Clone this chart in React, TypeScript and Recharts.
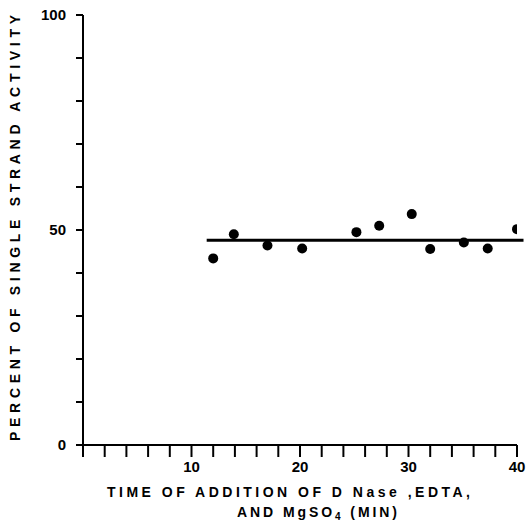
import { ScatterChart, Scatter, XAxis, YAxis, ReferenceLine, Label } from 'recharts'

// minutes after start at which DNase, EDTA and MgSO4 were added
const times = [12.0, 13.9, 17.0, 20.2, 25.2, 27.3, 30.3, 32.0, 35.1, 37.3, 40.0]
const percents = [43.4, 49.0, 46.4, 45.7, 49.5, 51.0, 53.7, 45.6, 47.1, 45.7, 50.2]

const xTicks = [0, 2, 4, 6, 8, 10, 12, 14, 16, 18, 20, 22, 24, 26, 28, 30, 32, 34, 36, 38, 40]
const xLabelled = [10, 20, 30, 40]
const yTicks = [0, 10, 20, 30, 40, 50, 60, 70, 80, 90, 100]
const yLabelled = [0, 50, 100]

// fitted horizontal line
const fitStart = 11.4
const fitEnd = 40.6
const fitLevel = 47.6

const points = times.map((t, i) => ({ t, p: percents[i] }))

const FONT = '"Liberation Sans", Arial, sans-serif'

function Dot({ cx, cy }: any) {
  return <circle cx={cx} cy={cy} r={5} fill="#000" />
}

function XTitle({ viewBox }: any) {
  const { x, y } = viewBox
  return (
    <g fontFamily={FONT} fontWeight="bold" fontSize={14} fill="#000">
      <text x={x + 24} y={y + 47} textLength={363} lengthAdjust="spacing" dominantBaseline="central">
        TIME OF ADDITION OF D Nase ,EDTA,
      </text>
      <text x={x + 154} y={y + 67} textLength={160} lengthAdjust="spacing" dominantBaseline="central">
        AND MgSO<tspan fontSize={10} dy={4}>4</tspan>
        <tspan dy={-4}> (MIN)</tspan>
      </text>
    </g>
  )
}

function YTitle() {
  return (
    <text
      x={15}
      y={228}
      transform="rotate(-90, 15, 228)"
      textAnchor="middle"
      dominantBaseline="central"
      fontFamily={FONT}
      fontWeight="bold"
      fontSize={14}
      fill="#000"
      textLength={426}
      lengthAdjust="spacing"
    >
      PERCENT OF SINGLE STRAND ACTIVITY
    </text>
  )
}

export default function App() {
  const tick = { fontSize: 15, fontWeight: 'bold', fill: '#000', fontFamily: FONT }
  return (
    <div style={{ position: 'absolute', left: 0, top: 0, width: 530, height: 524, background: '#fff' }}>
      <ScatterChart width={530} height={524} margin={{ top: 15, right: 13, left: 38, bottom: 0 }}>
        <XAxis
          type="number"
          dataKey="t"
          domain={[0, 40]}
          ticks={xTicks}
          interval={0}
          tickFormatter={(v) => (xLabelled.includes(v) ? String(v) : '')}
          tick={tick}
          tickSize={12}
          tickMargin={4}
          height={79}
          stroke="#000"
          strokeWidth={2}
          allowDataOverflow
        >
          <Label content={<XTitle />} />
        </XAxis>
        <YAxis
          type="number"
          dataKey="p"
          domain={[0, 100]}
          ticks={yTicks}
          interval={0}
          tickFormatter={(v) => (yLabelled.includes(v) ? String(v) : '')}
          tick={tick}
          tickSize={7}
          tickMargin={10}
          width={45}
          stroke="#000"
          strokeWidth={2}
        >
          <Label content={<YTitle />} />
        </YAxis>
        <ReferenceLine
          segment={[
            { x: fitStart, y: fitLevel },
            { x: fitEnd, y: fitLevel },
          ]}
          stroke="#000"
          strokeWidth={3}
          ifOverflow="visible"
        />
        <Scatter data={points} shape={<Dot />} isAnimationActive={false} />
      </ScatterChart>
    </div>
  )
}
